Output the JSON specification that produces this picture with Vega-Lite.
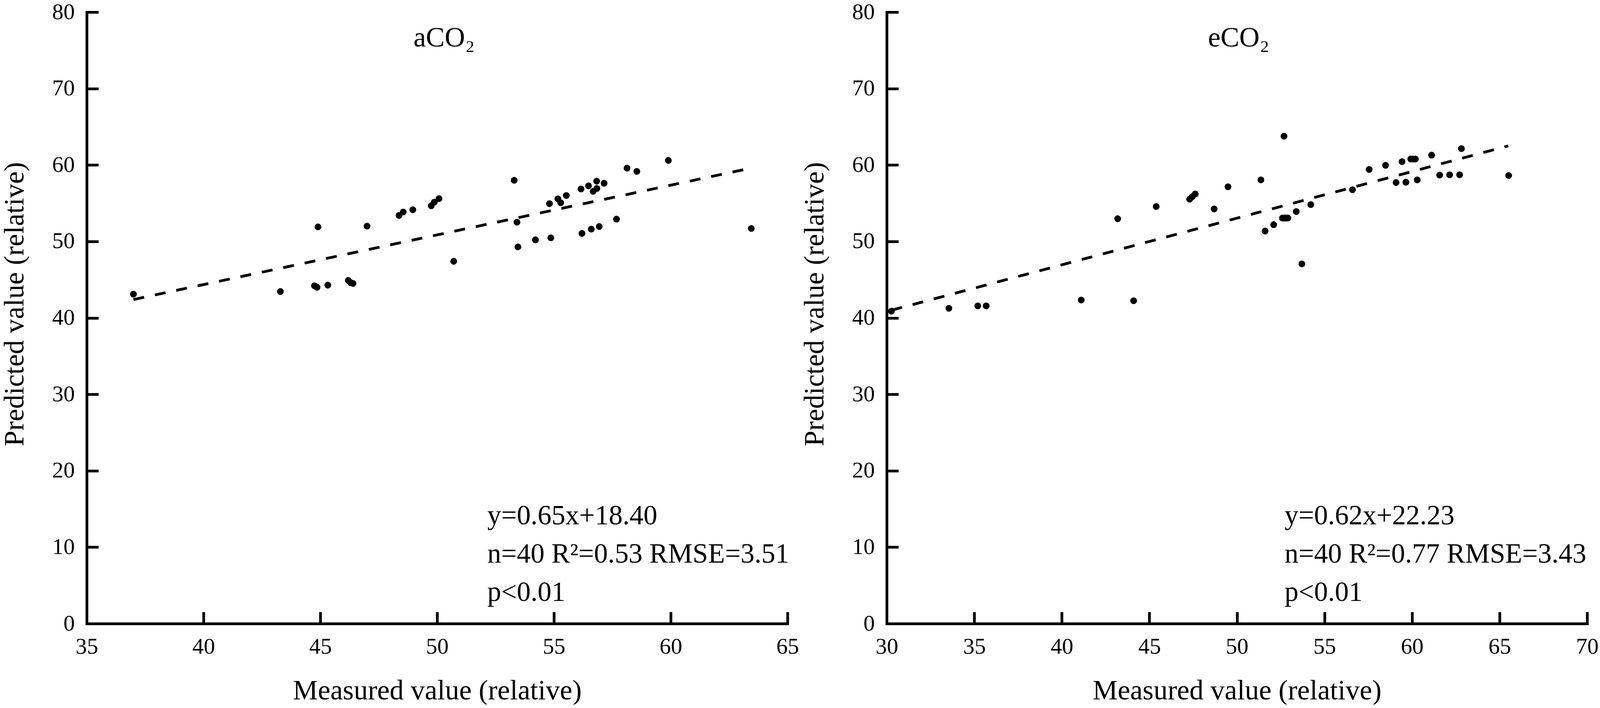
{
  "$schema": "https://vega.github.io/schema/vega-lite/v6.json",
  "autosize": {"type": "pad"},
  "padding": {"left": 1, "top": 2, "right": 0, "bottom": 0},
  "background": "white",
  "config": {
    "view": {"stroke": null},
    "font": "Liberation Serif",
    "axis": {
      "domainColor": "black", "domainWidth": 7, "domainCap": "square",
      "tickColor": "black", "tickWidth": 7, "tickSize": -30,
      "labelFont": "Liberation Serif", "labelFontSize": 58, "labelColor": "black",
      "labelFlush": false, "labelOverlap": false,
      "titleFont": "Liberation Serif", "titleFontSize": 72, "titleFontWeight": "normal", "titleColor": "black",
      "grid": false
    },
    "axisX": {"labelPadding": 60, "titleY": 171, "titleBaseline": "middle", "format": "d"},
    "axisY": {"labelPadding": 61, "titleX": -185, "titleY": 747, "titleBaseline": "middle", "format": "d"}
  },
  "datasets": {
    "a": [
      {"measured": 37.0, "predicted": 43.1},
      {"measured": 43.29, "predicted": 43.45},
      {"measured": 44.75, "predicted": 44.2},
      {"measured": 44.86, "predicted": 44.0},
      {"measured": 44.9, "predicted": 51.9},
      {"measured": 45.32, "predicted": 44.28},
      {"measured": 46.2, "predicted": 44.9},
      {"measured": 46.3, "predicted": 44.6},
      {"measured": 46.4, "predicted": 44.5},
      {"measured": 47.0, "predicted": 52.0},
      {"measured": 48.37, "predicted": 53.4},
      {"measured": 48.55, "predicted": 53.85},
      {"measured": 48.96, "predicted": 54.14},
      {"measured": 49.75, "predicted": 54.67},
      {"measured": 49.88, "predicted": 55.14},
      {"measured": 50.08, "predicted": 55.6},
      {"measured": 50.71, "predicted": 47.4},
      {"measured": 53.30, "predicted": 58.0},
      {"measured": 53.42, "predicted": 52.52},
      {"measured": 53.46, "predicted": 49.28},
      {"measured": 54.21, "predicted": 50.21},
      {"measured": 54.87, "predicted": 50.47},
      {"measured": 54.81, "predicted": 54.94},
      {"measured": 55.17, "predicted": 55.57},
      {"measured": 55.29, "predicted": 55.06},
      {"measured": 55.53, "predicted": 56.01},
      {"measured": 56.16, "predicted": 56.86},
      {"measured": 56.20, "predicted": 51.05},
      {"measured": 56.48, "predicted": 57.27},
      {"measured": 56.60, "predicted": 51.61},
      {"measured": 56.68, "predicted": 56.55},
      {"measured": 56.84, "predicted": 56.93},
      {"measured": 56.83, "predicted": 57.88},
      {"measured": 56.94, "predicted": 51.95},
      {"measured": 57.15, "predicted": 57.61},
      {"measured": 57.68, "predicted": 52.92},
      {"measured": 58.13, "predicted": 59.59},
      {"measured": 58.55, "predicted": 59.16},
      {"measured": 59.9, "predicted": 60.6},
      {"measured": 63.45, "predicted": 51.7}
    ],
    "e": [
      {"measured": 30.27, "predicted": 40.88},
      {"measured": 33.55, "predicted": 41.25},
      {"measured": 35.20, "predicted": 41.56},
      {"measured": 35.68, "predicted": 41.56},
      {"measured": 41.11, "predicted": 42.33},
      {"measured": 43.19, "predicted": 52.97},
      {"measured": 44.10, "predicted": 42.24},
      {"measured": 45.39, "predicted": 54.56},
      {"measured": 47.30, "predicted": 55.53},
      {"measured": 47.45, "predicted": 55.85},
      {"measured": 47.62, "predicted": 56.21},
      {"measured": 48.70, "predicted": 54.25},
      {"measured": 49.49, "predicted": 57.15},
      {"measured": 51.37, "predicted": 58.05},
      {"measured": 51.61, "predicted": 51.36},
      {"measured": 52.10, "predicted": 52.19},
      {"measured": 52.60, "predicted": 53.06},
      {"measured": 52.70, "predicted": 53.06},
      {"measured": 52.80, "predicted": 53.06},
      {"measured": 52.91, "predicted": 53.06},
      {"measured": 52.69, "predicted": 63.76},
      {"measured": 53.39, "predicted": 53.91},
      {"measured": 53.71, "predicted": 47.06},
      {"measured": 54.22, "predicted": 54.82},
      {"measured": 56.60, "predicted": 56.76},
      {"measured": 57.55, "predicted": 59.42},
      {"measured": 58.49, "predicted": 59.96},
      {"measured": 59.09, "predicted": 57.70},
      {"measured": 59.43, "predicted": 60.44},
      {"measured": 59.65, "predicted": 57.75},
      {"measured": 59.93, "predicted": 60.78},
      {"measured": 60.06, "predicted": 60.78},
      {"measured": 60.19, "predicted": 60.78},
      {"measured": 60.30, "predicted": 58.05},
      {"measured": 61.12, "predicted": 61.29},
      {"measured": 61.58, "predicted": 58.68},
      {"measured": 62.15, "predicted": 58.72},
      {"measured": 62.72, "predicted": 58.72},
      {"measured": 62.82, "predicted": 62.14},
      {"measured": 65.52, "predicted": 58.63}
    ],
    "fitA": [
      {"measured": 37.0, "predicted": 42.4},
      {"measured": 63.45, "predicted": 59.6}
    ],
    "fitE": [
      {"measured": 30.27, "predicted": 41.0},
      {"measured": 65.5, "predicted": 62.5}
    ]
  },
  "spacing": 4,
  "hconcat": [
    {
      "width": 1794,
      "height": 1565,
      "layer": [
        {
          "data": {"name": "a"},
          "mark": {"type": "circle", "size": 300, "color": "black", "opacity": 1},
          "encoding": {
            "x": {"field": "measured", "type": "quantitative",
                  "scale": {"domain": [35, 65], "nice": false, "zero": false},
                  "axis": {"values": [35, 40, 45, 50, 55, 60, 65], "title": "Measured value (relative)"}},
            "y": {"field": "predicted", "type": "quantitative",
                  "scale": {"domain": [0, 80], "nice": false},
                  "axis": {"values": [0, 10, 20, 30, 40, 50, 60, 70, 80], "title": "Predicted value (relative)"}}
          }
        },
        {
          "data": {"name": "fitA"},
          "mark": {"type": "line", "color": "black", "strokeWidth": 7, "strokeDash": [28, 28]},
          "encoding": {
            "x": {"field": "measured", "type": "quantitative"},
            "y": {"field": "predicted", "type": "quantitative"}
          }
        },
        {
          "data": {"values": [{"t": "aCO₂"}]},
          "mark": {"type": "text", "fontSize": 72, "align": "center", "baseline": "alphabetic", "color": "black", "font": "Liberation Serif"},
          "encoding": {"x": {"datum": 50.3}, "y": {"datum": 75.5}, "text": {"field": "t"}}
        },
        {
          "data": {"values": [{"t": "y=0.65x+18.40|n=40 R²=0.53 RMSE=3.51|p<0.01"}]},
          "mark": {"type": "text", "fontSize": 71, "align": "left", "baseline": "alphabetic", "lineBreak": "|", "lineHeight": 98, "color": "black", "font": "Liberation Serif"},
          "encoding": {"x": {"datum": 52.15}, "y": {"datum": 12.98}, "text": {"field": "t"}}
        }
      ]
    },
    {
      "width": 1793,
      "height": 1565,
      "layer": [
        {
          "data": {"name": "e"},
          "mark": {"type": "circle", "size": 300, "color": "black", "opacity": 1},
          "encoding": {
            "x": {"field": "measured", "type": "quantitative",
                  "scale": {"domain": [30, 70], "nice": false, "zero": false},
                  "axis": {"values": [30, 35, 40, 45, 50, 55, 60, 65, 70], "title": "Measured value (relative)"}},
            "y": {"field": "predicted", "type": "quantitative",
                  "scale": {"domain": [0, 80], "nice": false},
                  "axis": {"values": [0, 10, 20, 30, 40, 50, 60, 70, 80], "title": "Predicted value (relative)"}}
          }
        },
        {
          "data": {"name": "fitE"},
          "mark": {"type": "line", "color": "black", "strokeWidth": 7, "strokeDash": [28, 28]},
          "encoding": {
            "x": {"field": "measured", "type": "quantitative"},
            "y": {"field": "predicted", "type": "quantitative"}
          }
        },
        {
          "data": {"values": [{"t": "eCO₂"}]},
          "mark": {"type": "text", "fontSize": 72, "align": "center", "baseline": "alphabetic", "color": "black", "font": "Liberation Serif"},
          "encoding": {"x": {"datum": 50.1}, "y": {"datum": 75.5}, "text": {"field": "t"}}
        },
        {
          "data": {"values": [{"t": "y=0.62x+22.23|n=40 R²=0.77 RMSE=3.43|p<0.01"}]},
          "mark": {"type": "text", "fontSize": 71, "align": "left", "baseline": "alphabetic", "lineBreak": "|", "lineHeight": 98, "color": "black", "font": "Liberation Serif"},
          "encoding": {"x": {"datum": 52.72}, "y": {"datum": 12.98}, "text": {"field": "t"}}
        }
      ]
    }
  ]
}
